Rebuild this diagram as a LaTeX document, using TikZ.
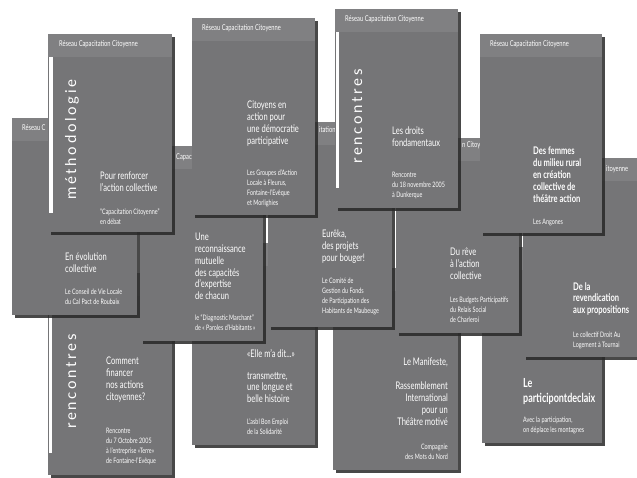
\documentclass[tikz,border=0pt]{standalone}
\usepackage{fontspec}
\setmainfont{Lato}
\newfontfamily\narrowfont[FakeStretch=0.72]{Lato}
\newfontfamily\seriesfont[LetterSpace=18]{Lato}
\definecolor{coverGray}{RGB}{117,117,119}
\definecolor{headGray}{RGB}{128,128,130}
\definecolor{shadowGray}{RGB}{40,40,40}
\tikzset{
  cvbody/.style={fill=coverGray},
  cvhead/.style={fill=headGray},
  cvshadow/.style={fill=shadowGray,fill opacity=0.85},
  spine/.style={fill=white},
  headtxt/.style={anchor=base west,inner sep=0pt,text=white,font=\narrowfont\fontsize{8}{9}\selectfont},
  ttl/.style={anchor=north west,inner sep=0pt,text=white,align=left,font=\narrowfont\fontsize{10.5}{11.8}\selectfont},
  ttlb/.style={ttl,font=\narrowfont\bfseries\fontsize{10.5}{11.8}\selectfont},
  ttlr/.style={ttl,anchor=north east,align=right},
  sub/.style={anchor=north west,inner sep=0pt,text=white,align=left,font=\narrowfont\fontsize{7.5}{10}\selectfont},
  subr/.style={sub,anchor=north east,align=right},
  series/.style={rotate=90,anchor=base west,inner sep=0pt,text=white,font=\seriesfont\fontsize{15}{15}\selectfont}
}
% one cover: top left x, y ; bottom right x, y
\newcommand{\bookcover}[4]{%
  \fill[cvshadow] (#1+3,#2+3) rectangle (#3+3,#4+3);
  \fill[cvbody] (#1,#2) rectangle (#3,#4);
  \fill[cvhead] (#1,#2) rectangle (#3,#2+23);
}

\begin{document}
\begin{tikzpicture}[x=1pt,y=-1pt]
  \useasboundingbox (0,0) rectangle (637,478);
  \fill[white] (0,0) rectangle (637,478);

  % lower row
  \bookcover{48}{273}{172}{475}
  \fill[spine] (49,296) rectangle (52,453);
  \node[series] (bSeries) at (76,429) {rencontres};
  \node[ttl] (bTitle) at (106,357) {Comment\\financer\\nos actions\\citoyennes?};
  \node[sub] (bSub) at (106,428) {Rencontre\\du 7 Octobre 2005\\à l’entreprise «Terre»\\de Fontaine-l’Evêque};

  \bookcover{192}{243}{315}{445}
  \node[ttl] (eTitle) at (247,349) {«Elle m’a dit...»\\[10pt]transmettre,\\une longue et\\belle histoire};
  \node[sub] (eSub) at (247,419) {L’asbl Bon Emploi\\de la Solidarité};

  \bookcover{333}{268}{458}{470}
  \node[ttlr] (kTitle) at (448,358) {Le Manifeste,\\[12pt]Rassemblement\\International\\pour un\\Théâtre motivé};
  \node[subr] (kSub) at (448,444) {Compagnie\\des Mots du Nord};

  \bookcover{482}{247}{602}{443}
  \node[ttlb,font=\narrowfont\bfseries\fontsize{12.5}{15}\selectfont] (lTitle) at (523,378) {Le\\participontdeclaix};
  \node[sub] (lSub) at (523,417) {Avec la participation,\\on déplace les montagnes};

  % middle row, headers only show where they are not covered
  \bookcover{12}{118}{137}{315}
  \node[headtxt] (aHead) at (22,131) {Réseau C};
  \node[ttl] (aTitle) at (65,253) {En évolution\\collective};
  \node[sub] (aSub) at (65,289) {Le Conseil de Vie Locale\\du Cal Pact de Roubaix};

  \bookcover{140}{146}{263}{341}
  \node[headtxt] (cHead) at (176,160) {Capaci};
  \node[ttl] (cTitle) at (195,233) {Une\\reconnaissance\\mutuelle\\des capacités\\d’expertise\\de chacun};
  \node[sub] (cSub) at (195,315) {le “Diagnostic Marchant”\\de « Paroles d’Habitants »};

  \bookcover{268}{122}{392}{327}
  \node[headtxt] (dHead) at (319,133) {itation};
  \node[ttl] (dTitle) at (322,230) {Eurêka,\\des projets\\pour bouger!};
  \node[sub] (dSub) at (322,278) {Le Comité de\\Gestion du Fonds\\de Participation des\\Habitants de Maubeuge};

  \bookcover{396}{138}{519}{333}
  \node[headtxt] (iHead) at (462,148) {n Citoy};
  \node[ttl] (iTitle) at (450,248) {Du rêve\\à l’action\\collective};
  \node[sub] (iSub) at (450,297) {Les Budgets Participatifs\\du Relais Social\\de Charleroi};

  \bookcover{523}{158}{646}{357}
  \node[headtxt] (jHead) at (606,172) {itoyenne};
  \node[ttlb] (jTitle) at (573,282) {De la\\revendication\\aux propositions};
  \node[sub] (jSub) at (573,332) {Le collectif Droit Au\\Logement à Tournai};

  % upper row
  \bookcover{48}{34}{172}{232}
  \fill[spine] (49,57) rectangle (53,213);
  \node[headtxt] (mHead) at (59,47) {Réseau Capacitation Citoyenne};
  \node[series] (mSeries) at (76,200) {méthodologie};
  \node[ttl] (mTitle) at (100,172) {Pour renforcer\\l’action collective};
  \node[sub] (mSub) at (100,209) {“Capacitation Citoyenne”\\en débat};

  \bookcover{192}{18}{315}{215}
  \node[headtxt] (fHead) at (202,31) {Réseau Capacitation Citoyenne};
  \node[ttl] (fTitle) at (247,101) {Citoyens en\\action pour\\une démocratie\\participative};
  \node[sub] (fSub) at (247,170) {Les Groupes d’Action\\Locale à Fleurus,\\Fontaine-l’Evêque\\et Morlighies};

  \bookcover{335}{9}{458}{208}
  \fill[spine] (336,32) rectangle (339,188);
  \node[headtxt] (gHead) at (345,22) {Réseau Capacitation Citoyenne};
  \node[series] (gSeries) at (362,164) {rencontres};
  \node[ttl] (gTitle) at (392,127) {Les droits\\fondamentaux};
  \node[sub] (gSub) at (392,172) {Rencontre\\du 18 novembre 2005\\à Dunkerque};

  \bookcover{480}{34}{602}{233}
  \node[headtxt] (hHead) at (490,47) {Réseau Capacitation Citoyenne};
  \node[ttlb] (hTitle) at (533,147) {Des femmes\\du milieu rural\\en création\\collective de\\théâtre action};
  \node[sub] (hSub) at (533,219) {Les Angones};
\end{tikzpicture}
\end{document}
